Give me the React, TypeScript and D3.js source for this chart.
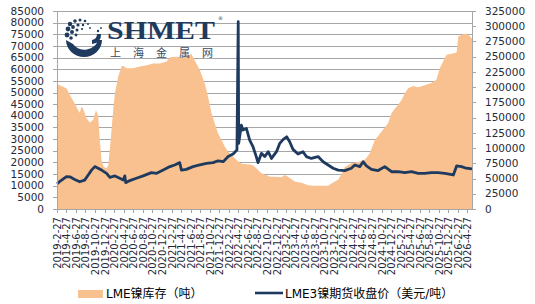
import React from 'react';
import * as d3 from 'd3';

// LME nickel stocks (tonnes, right axis)
const stockDates = [
  '2019-02-27', '2019-03-15', '2019-04-28', '2019-05-20', '2019-06-20', '2019-07-12', '2019-07-22',
  '2019-08-02', '2019-08-12', '2019-09-03', '2019-09-24', '2019-10-15', '2019-11-02', '2019-11-16',
  '2019-11-27', '2019-12-08', '2019-12-22', '2020-01-09', '2020-01-20', '2020-02-04', '2020-02-20',
  '2020-03-02', '2020-03-23', '2020-04-13', '2020-04-24', '2020-05-15', '2020-06-26', '2020-08-08',
  '2020-09-21', '2020-11-02', '2020-12-14', '2021-01-26', '2021-02-16', '2021-03-29', '2021-05-10',
  '2021-06-11', '2021-07-02', '2021-07-13', '2021-08-03', '2021-08-25', '2021-09-26', '2021-10-17',
  '2021-11-08', '2021-11-29', '2021-12-20', '2022-01-11', '2022-02-01', '2022-02-22', '2022-03-25',
  '2022-04-15', '2022-05-07', '2022-05-27', '2022-07-09', '2022-07-30', '2022-08-20', '2022-09-11',
  '2022-10-03', '2022-10-24', '2022-11-14', '2022-12-16', '2023-01-28', '2023-02-19', '2023-03-10',
  '2023-04-22', '2023-06-03', '2023-07-16', '2023-08-27', '2023-10-09', '2023-11-21', '2023-12-12',
  '2024-01-03', '2024-01-24', '2024-02-15', '2024-03-06', '2024-04-17', '2024-05-30', '2024-07-12',
  '2024-08-12', '2024-09-13', '2024-10-26', '2024-12-08', '2024-12-29', '2025-01-20', '2025-02-10',
  '2025-03-03', '2025-03-24', '2025-04-14', '2025-05-16', '2025-06-17', '2025-07-28', '2025-09-09',
  '2025-10-11', '2025-11-02', '2025-11-23', '2025-12-15', '2026-01-16', '2026-02-17', '2026-02-28',
  '2026-03-29', '2026-04-19', '2026-05-11', '2026-05-26',
];
const stockValues = [
  205000, 203000, 198000, 187000, 173000, 162000, 158000,
  168000, 165000, 149000, 142000, 146000, 162000, 154000,
  113000, 80000, 69000, 67000, 72000, 113000, 162000,
  190000, 217000, 234000, 235000, 231000, 231000, 234000,
  236000, 239000, 239000, 242000, 249000, 250000, 249000,
  251000, 255000, 249000, 239000, 228000, 206000, 184000,
  157000, 140000, 124000, 113000, 102000, 94000, 86000,
  81000, 76000, 74000, 73000, 72000, 67000, 61000,
  57000, 56000, 53000, 53000, 52000, 56000, 53000,
  45000, 43000, 39000, 38000, 38000, 38000, 42000,
  45000, 48000, 58000, 69000, 75000, 77000, 81000,
  91000, 113000, 127000, 141000, 157000, 165000, 171000,
  179000, 190000, 198000, 202000, 200000, 203000, 207000,
  212000, 231000, 242000, 253000, 255000, 257000, 283000,
  287000, 288000, 284000, 280000,
];

// LME 3M nickel close (USD/t, left axis)
const priceDates = [
  '2019-02-27', '2019-03-20', '2019-04-28', '2019-05-20', '2019-06-20', '2019-07-22', '2019-08-22',
  '2019-09-14', '2019-10-05', '2019-10-26', '2019-11-16', '2019-12-08', '2020-01-09', '2020-01-30',
  '2020-03-02', '2020-04-02', '2020-04-24', '2020-05-04', '2020-05-10', '2020-06-05', '2020-07-17',
  '2020-08-29', '2020-10-21', '2020-11-23', '2021-01-04', '2021-02-16', '2021-03-18', '2021-04-19',
  '2021-04-30', '2021-05-31', '2021-07-13', '2021-08-25', '2021-10-07', '2021-11-18', '2021-12-20',
  '2022-01-21', '2022-02-22', '2022-03-25', '2022-04-19', '2022-04-27', '2022-04-30', '2022-05-17',
  '2022-05-27', '2022-06-18', '2022-07-09', '2022-07-30', '2022-08-20', '2022-08-31', '2022-09-22',
  '2022-10-13', '2022-11-04', '2022-11-25', '2022-12-27', '2023-01-17', '2023-02-08', '2023-03-02',
  '2023-03-21', '2023-04-11', '2023-05-13', '2023-06-14', '2023-07-05', '2023-08-06', '2023-09-18',
  '2023-10-20', '2023-11-21', '2023-12-23', '2024-01-24', '2024-03-06', '2024-04-17', '2024-05-09',
  '2024-06-10', '2024-07-01', '2024-07-22', '2024-08-23', '2024-10-05', '2024-11-16', '2024-12-29',
  '2025-02-10', '2025-03-24', '2025-05-05', '2025-06-17', '2025-07-28', '2025-09-09', '2025-10-22',
  '2025-12-04', '2026-01-27', '2026-02-17', '2026-03-20', '2026-04-19', '2026-05-26',
];
const priceValues = [
  10800, 12000, 13900, 13800, 12700, 11700, 12400,
  14600, 16700, 18200, 17500, 16700, 15300, 13600,
  14200, 13200, 12400, 14200, 11300, 12200, 13200,
  14200, 15600, 15300, 16700, 18200, 18900, 19900,
  16700, 17000, 18200, 18900, 19600, 19900, 20700,
  20300, 22500, 23600, 25300, 80400, 28200, 36000,
  33900, 34600, 29600, 26800, 22500, 19900, 23900,
  22500, 24600, 21700, 24600, 28200, 29900, 31000,
  28900, 25600, 23600, 24600, 22500, 21700, 22500,
  20300, 18900, 17500, 16700, 16500, 17500, 18900,
  18200, 20300, 18500, 17000, 16500, 18200, 16000,
  16000, 15600, 16000, 15300, 15300, 15600, 15600,
  15300, 14600, 18500, 18200, 17500, 17200,
];

const leftTicks = d3.range(0, 85001, 5000);
const rightTicks = d3.range(0, 325001, 25000);

const stockLabel = 'LME镍库存（吨）';
const priceLabel = 'LME3镍期货收盘价（美元/吨）';

const W = 535;
const H = 304;
const plot = { left: 57, right: 472, top: 11, bottom: 209 };
const FONT = '"DejaVu Sans", "Noto Sans CJK SC", sans-serif';
const AREA = '#F8C18F';
const NAVY = '#1F3A5F';

const parse = d3.timeParse('%Y-%m-%d');

export default function App() {
  const x = d3.scaleTime()
    .domain([parse('2019-02-27')!, parse('2026-05-26')!])
    .range([plot.left, plot.right]);
  const yL = d3.scaleLinear().domain([0, 85000]).range([plot.bottom, plot.top]);
  const yR = d3.scaleLinear().domain([0, 325000]).range([plot.bottom, plot.top]);

  const stock = stockDates.map((d, i) => ({ date: parse(d)!, v: stockValues[i] }));
  const price = priceDates.map((d, i) => ({ date: parse(d)!, v: priceValues[i] }));

  const area = d3.area<{ date: Date; v: number }>()
    .x(d => x(d.date))
    .y0(plot.bottom)
    .y1(d => yR(d.v));
  const line = d3.line<{ date: Date; v: number }>()
    .x(d => x(d.date))
    .y(d => yL(d.v));

  // every two months on the 27th, 2019-2-27 .. 2026-4-27
  const xTicks = d3.range(0, 87, 2).map(m => new Date(2019, 1 + m, 27));

  return (
    <div style={{ position: 'absolute', left: 0, top: 0 }}>
      <svg width={W} height={H} style={{ display: 'block', background: '#fff' }} fontFamily={FONT}>
        {/* gridlines */}
        {leftTicks.map(t => (
          <line key={'g' + t} x1={plot.left} x2={plot.right} y1={Math.round(yL(t)) + 0.5} y2={Math.round(yL(t)) + 0.5}
            stroke="#A6A6A6" strokeWidth={1} />
        ))}

        <path d={area(stock)!} fill={AREA} />

        {/* logo */}
        <g fill={NAVY}>
          <path d="M66,40 A18,17 0 0 0 102,40 L98,40 A14,13 0 0 1 73,44 Z" />
          <path d="M92,44 A9,9 0 0 0 101,34 L97,34 A6,6 0 0 1 92,40 Z" />
          {[[70, 24, 2.2], [75, 21, 1.8], [80, 20, 1.5], [85, 21, 1.3], [68, 29, 2.4], [73, 27, 1.9], [78, 25, 1.6],
            [83, 25, 1.2], [88, 24, 1.0], [67, 35, 2.4], [72, 32, 2.0], [77, 30, 1.5], [82, 29, 1.1], [71, 38, 1.8],
            [76, 35, 1.4], [90, 28, 0.9], [98, 31, 1.2], [101, 28, 0.9]].map(([cx, cy, r], i) => (
            <circle key={'d' + i} cx={cx} cy={cy} r={r} />
          ))}
          <text x={107} y={39} fontFamily='"Liberation Serif", serif' fontWeight="bold" fontSize={25}
            textLength={108} lengthAdjust="spacingAndGlyphs">SHMET</text>
          <text x={218} y={20} fontSize={5} fontFamily={FONT}>®</text>
          <text x={110} y={57} fontSize={11} textLength={103} lengthAdjust="spacing"
            fontFamily='"Noto Sans CJK SC", sans-serif' fill="#3a4a60">上海金属网</text>
        </g>

        <path d={line(price)!} fill="none" stroke={NAVY} strokeWidth={2.8} strokeLinejoin="round" />

        {/* axes lines */}
        <line x1={plot.left + 0.5} x2={plot.left + 0.5} y1={plot.top} y2={plot.bottom} stroke="#A6A6A6" />
        <line x1={plot.right + 0.5} x2={plot.right + 0.5} y1={plot.top} y2={plot.bottom} stroke="#A6A6A6" />
        <line x1={plot.left} x2={plot.right} y1={plot.bottom + 0.5} y2={plot.bottom + 0.5} stroke="#A6A6A6" />

        {/* left axis */}
        {leftTicks.map(t => (
          <g key={'l' + t}>
            <line x1={plot.left - 4} x2={plot.left} y1={Math.round(yL(t)) + 0.5} y2={Math.round(yL(t)) + 0.5} stroke="#A6A6A6" />
            <text x={44} y={yL(t)} dy="0.35em" textAnchor="end" fontSize={10.5} fill="#1F2A3A">{t}</text>
          </g>
        ))}

        {/* right axis */}
        {rightTicks.map(t => (
          <g key={'r' + t}>
            <line x1={plot.right} x2={plot.right + 4} y1={Math.round(yR(t)) + 0.5} y2={Math.round(yR(t)) + 0.5} stroke="#A6A6A6" />
            <text x={485} y={yR(t)} dy="0.35em" textAnchor="start" fontSize={10.5} fill="#1F2A3A">{t}</text>
          </g>
        ))}

        {/* bottom axis */}
        {xTicks.map(d => {
          const px = Math.round(x(d)) + 0.5;
          return (
            <g key={'x' + d.getTime()}>
              <line x1={px} x2={px} y1={plot.bottom} y2={plot.bottom + 4} stroke="#A6A6A6" />
              <text transform={`translate(${px},217) rotate(-90)`} dy="0.35em" textAnchor="end" fontSize={10}
                fill="#1F2A3A">{`${d.getFullYear()}-${d.getMonth() + 1}-27`}</text>
            </g>
          );
        })}

        {/* legend */}
        <rect x={78} y={290} width={25} height={8} fill={AREA} />
        <text x={106} y={294} dy="0.35em" fontSize={12} fill="#000">{stockLabel}</text>
        <line x1={255} x2={283} y1={293} y2={293} stroke={NAVY} strokeWidth={2.6} />
        <text x={285} y={294} dy="0.35em" fontSize={12} fill="#000">{priceLabel}</text>
      </svg>
    </div>
  );
}
